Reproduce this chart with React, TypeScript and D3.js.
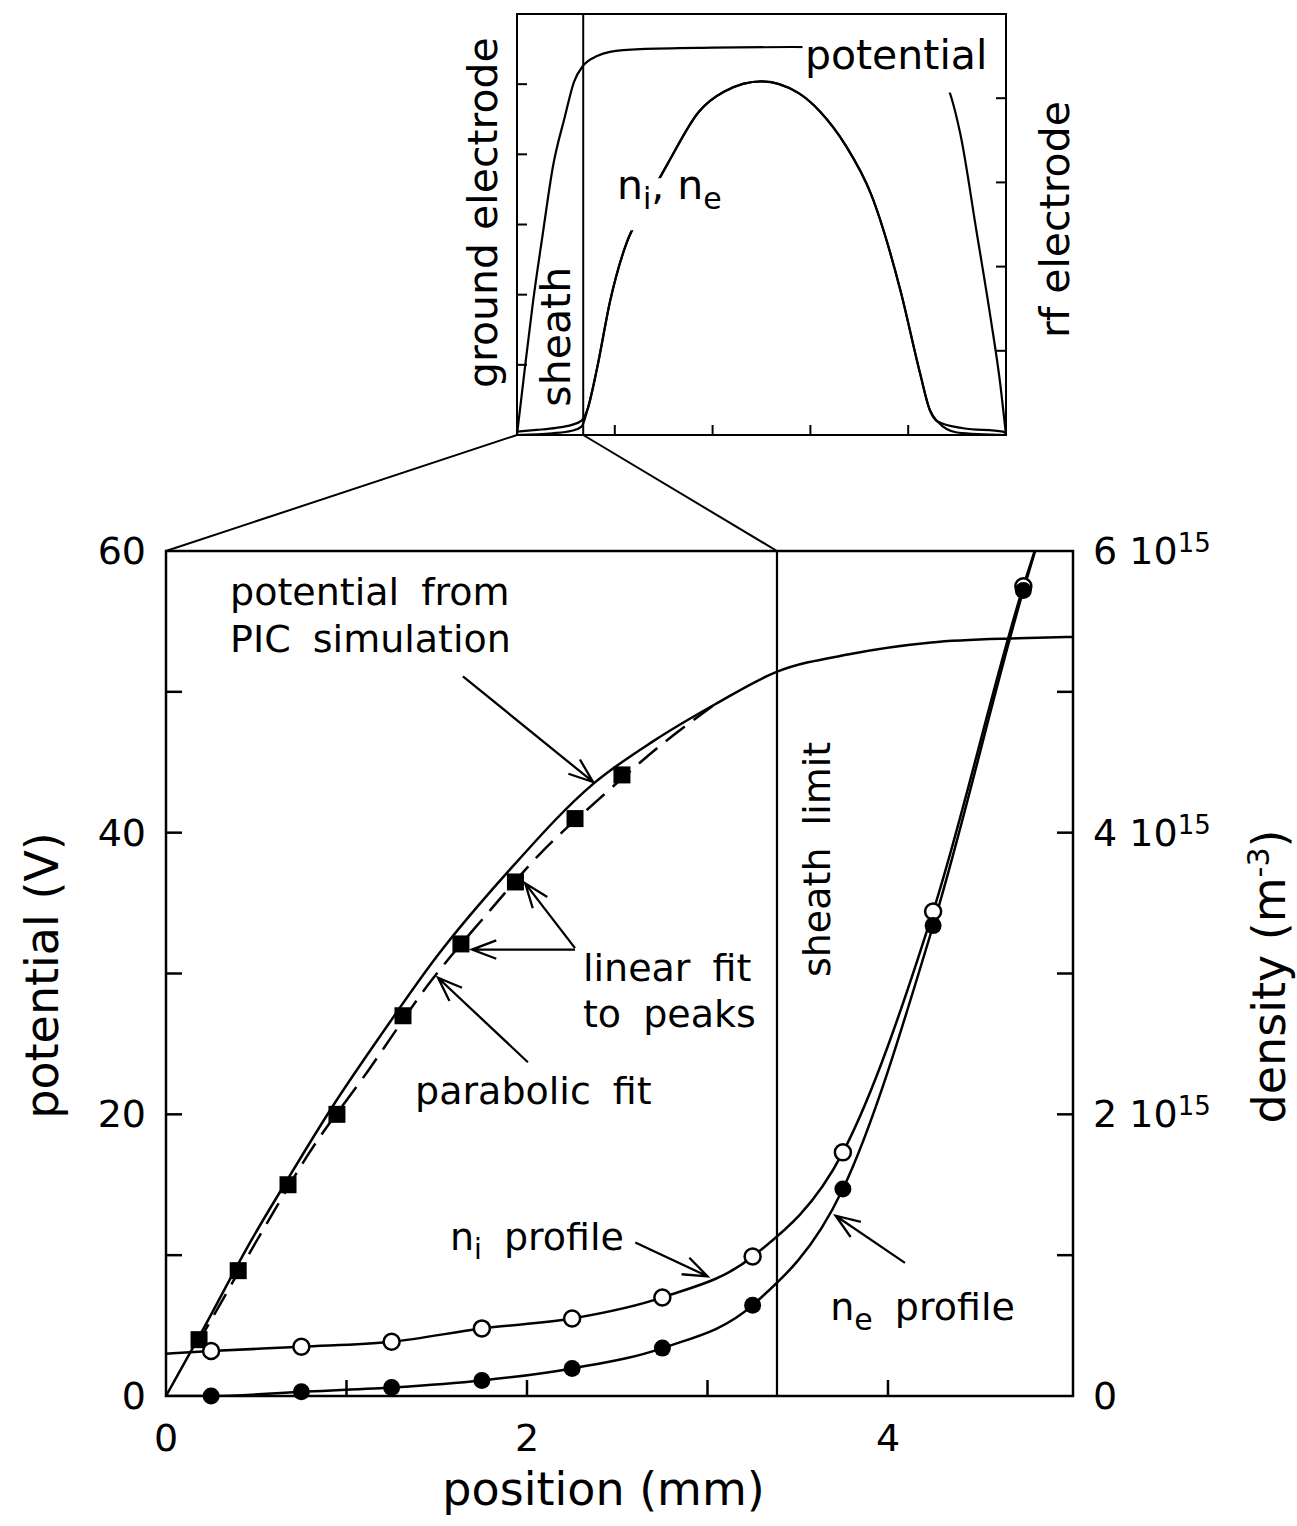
import React from 'react';
import * as d3 from 'd3';

// ---- main plot data: position (mm), potential (V), density (1e15 m^-3)
const xLabelTicks = [0, 2, 4];
const xTickMarks = [1, 2, 3, 4];
const vLabelTicks = [0, 20, 40, 60];
const vTickMarks = [10, 20, 30, 40, 50];
const nLabelTicks = [0, 2, 4, 6];
const nTickMarks = [1, 2, 3, 4, 5];

const sheathLimit = 3.385;

// potential from PIC simulation (solid)
const picPotential: [number, number][] = [
  [0, 0], [0.2, 4.6], [0.47, 11.0], [0.67, 15.3], [0.92, 20.5], [1.2, 25.8],
  [1.5, 31.2], [1.9, 37.3], [2.37, 43.5], [2.7, 46.5], [3.04, 49.1], [3.38, 51.4],
  [3.8, 52.7], [4.24, 53.5], [4.72, 53.8], [5.025, 53.9],
];

// parabolic fit (dashed)
const parabolicFit: [number, number][] = [
  [0.17, 3.6], [0.57, 12.5], [0.78, 17.0], [1.12, 23.1], [1.47, 29.5],
  [1.77, 34.1], [2.08, 38.6], [2.4, 42.4], [2.75, 46.3], [3.04, 49.1],
];

// linear fit to peaks (squares)
const peakPoints: [number, number][] = [
  [0.183, 4.0], [0.40, 8.9], [0.676, 15.0], [0.947, 20.0], [1.313, 27.0],
  [1.634, 32.1], [1.936, 36.5], [2.266, 41.0], [2.526, 44.1],
];

const profileX = [0.25, 0.75, 1.25, 1.75, 2.25, 2.75, 3.25, 3.75, 4.25, 4.75];
const niProfile = [0.319, 0.35, 0.385, 0.48, 0.55, 0.70, 0.99, 1.73, 3.44, 5.75];
const neProfile = [0.0, 0.03, 0.06, 0.11, 0.196, 0.34, 0.645, 1.47, 3.34, 5.72];
const niStart: [number, number] = [0, 0.30];
const neStart: [number, number] = [0, 0];
const profileEnd: [number, number] = [4.85, 6.15];

// ---- inset data: full gap (mm), potential (V), density (1e15 m^-3)
const insetXTicks = [5, 10, 15, 20];
const insetVTicks = [10, 20, 30, 40, 50];
const insetNTicks = [5, 10, 15, 20];

const insetPotential: [number, number][] = [
  [0, 0], [0.41, 9.7], [0.82, 19], [1.33, 28.9], [1.84, 38.3], [2.45, 45.4],
  [2.91, 50.3], [3.37, 52.6], [4.09, 54.0], [4.75, 54.6], [6.3, 55.0], [10, 55.2],
  [14, 55.3], [18, 55.2], [19.5, 54.6], [20.8, 53.0], [21.9, 50.3], [22.65, 43.1],
  [23.5, 28.9], [24.2, 16.9], [24.7, 7.4], [25, 0],
];

const insetNi: [number, number][] = [
  [0, 0.2], [1, 0.3], [2, 0.42], [2.8, 0.6], [3.3, 0.85], [3.6, 1.5], [4.1, 4.0],
  [4.75, 7.9], [5.6, 11.4], [6.3, 13.1], [7.7, 16.1], [9.3, 19.2], [10.6, 20.4],
  [12.5, 21.0], [14.4, 20.3], [15.5, 19.2], [16.8, 17.2], [18.1, 14.3], [19.6, 8.6],
  [20.6, 3.7], [21.1, 1.5], [21.5, 0.8], [22.8, 0.4], [24.85, 0.2], [25, 0.1],
];

const insetNe: [number, number][] = [
  [0, 0], [1.8, 0.1], [2.8, 0.25], [3.3, 0.5], [3.6, 1.5], [4.1, 4.0],
  [4.75, 7.9], [5.6, 11.4], [6.3, 13.1], [7.7, 16.1], [9.3, 19.2], [10.6, 20.4],
  [12.5, 21.0], [14.4, 20.3], [15.5, 19.2], [16.8, 17.2], [18.1, 14.3], [19.6, 8.6],
  [20.6, 3.7], [21.1, 1.5], [21.5, 0.8], [22.5, 0.15], [25, 0],
];

// annotations in main-plot data coords (x mm, y V)
const arrows: { from: [number, number]; to: [number, number] }[] = [
  { from: [1.645, 51.1], to: [2.366, 43.6] },
  { from: [2.266, 31.7], to: [1.695, 31.7] },
  { from: [2.266, 31.8], to: [1.99, 36.4] },
  { from: [2.005, 23.7], to: [1.507, 29.7] },
  { from: [2.6, 10.9], to: [3.0, 8.5] },
  { from: [4.094, 9.45], to: [3.71, 12.8] },
];

const W = 1297;
const H = 1526;
const FONT = "'DejaVu Sans', Verdana, sans-serif";

const main = { left: 166, right: 1073, top: 551, bottom: 1396 };
const inset = { left: 517, right: 1006, top: 14, bottom: 435 };

function arrowPath(x1: number, y1: number, x2: number, y2: number, len = 26, ang = 0.36) {
  const a = Math.atan2(y2 - y1, x2 - x1);
  const w1x = x2 - len * Math.cos(a - ang), w1y = y2 - len * Math.sin(a - ang);
  const w2x = x2 - len * Math.cos(a + ang), w2y = y2 - len * Math.sin(a + ang);
  return `M${x1},${y1}L${x2},${y2}M${w1x},${w1y}L${x2},${y2}L${w2x},${w2y}`;
}

export default function App() {
  const x = d3.scaleLinear().domain([0, 5.025]).range([main.left, main.right]);
  const yV = d3.scaleLinear().domain([0, 60]).range([main.bottom, main.top]);
  const yN = d3.scaleLinear().domain([0, 6]).range([main.bottom, main.top]);

  const ix = d3.scaleLinear().domain([0, 25]).range([inset.left, inset.right]);
  const iyV = d3.scaleLinear().domain([0, 60]).range([inset.bottom, inset.top]);
  const iyN = d3.scaleLinear().domain([0, 25]).range([inset.bottom, inset.top]);

  const lineV = d3.line<[number, number]>().x(d => x(d[0])).y(d => yV(d[1])).curve(d3.curveMonotoneX);
  const lineN = d3.line<[number, number]>().x(d => x(d[0])).y(d => yN(d[1])).curve(d3.curveMonotoneX);
  const iLineV = d3.line<[number, number]>().x(d => ix(d[0])).y(d => iyV(d[1])).curve(d3.curveMonotoneX);
  const iLineN = d3.line<[number, number]>().x(d => ix(d[0])).y(d => iyN(d[1])).curve(d3.curveMonotoneX);

  const niPts: [number, number][] = profileX.map((p, i) => [p, niProfile[i]]);
  const nePts: [number, number][] = profileX.map((p, i) => [p, neProfile[i]]);
  const niLine = [niStart, ...niPts, profileEnd];
  const neLine = [neStart, ...nePts, profileEnd];

  const txt = { fontFamily: FONT, fill: '#000' } as const;
  const annot = { ...txt, fontSize: 38, wordSpacing: 10 } as const;
  const sw = 2.5;

  return (
    <div style={{ position: 'absolute', left: 0, top: 0 }}>
      <svg width={W} height={H} style={{ display: 'block', background: '#fff' }}>
        <defs>
          <clipPath id="plotClip">
            <rect x={main.left} y={main.top} width={main.right - main.left} height={main.bottom - main.top} />
          </clipPath>
        </defs>

        {/* ---------- inset ---------- */}
        <g stroke="#000" fill="none" strokeWidth={2}>
          <rect x={inset.left} y={inset.top} width={inset.right - inset.left} height={inset.bottom - inset.top} />
          <line x1={ix(sheathLimit)} x2={ix(sheathLimit)} y1={inset.top} y2={inset.bottom} />
          {insetVTicks.map(t => (
            <line key={'iv' + t} x1={inset.left} x2={inset.left + 10} y1={iyV(t)} y2={iyV(t)} />
          ))}
          {insetNTicks.map(t => (
            <line key={'in' + t} x1={inset.right - 10} x2={inset.right} y1={iyN(t)} y2={iyN(t)} />
          ))}
          {insetXTicks.map(t => (
            <line key={'ix' + t} x1={ix(t)} x2={ix(t)} y1={inset.bottom} y2={inset.bottom - 10} />
          ))}
          <path d={iLineV(insetPotential) || ''} strokeWidth={2.2} />
          <path d={iLineN(insetNi) || ''} strokeWidth={2.2} />
          <path d={iLineN(insetNe) || ''} strokeWidth={2.2} />
          {/* zoom connectors */}
          <line x1={ix(0)} y1={inset.bottom} x2={x(0)} y2={main.top} />
          <line x1={ix(sheathLimit)} y1={inset.bottom} x2={x(sheathLimit)} y2={main.top} />
        </g>

        {/* inset labels */}
        <rect x={ix(14.6)} y={iyV(58.5)} width={190} height={68} fill="#fff" />
        <text x={ix(14.72)} y={iyV(52.1)} fontSize={41} {...txt}>potential</text>
        <rect x={ix(4.7)} y={iyV(36.6)} width={114} height={52} fill="#fff" />
        <text x={ix(5.11)} y={iyV(33.6)} fontSize={41} {...txt}>
          n<tspan fontSize={30} dy={10}>i</tspan><tspan dy={-10}>, n</tspan><tspan fontSize={30} dy={10}>e</tspan>
        </text>
        <text transform={`translate(${ix(-1.0)},${iyV(31.7)}) rotate(-90)`} textAnchor="middle" fontSize={41} {...txt}>
          ground electrode
        </text>
        <text transform={`translate(${ix(2.71)},${iyV(14)}) rotate(-90)`} textAnchor="middle" fontSize={41} {...txt}>
          sheath
        </text>
        <text transform={`translate(${ix(28.2)},${iyV(30.7)}) rotate(-90)`} textAnchor="middle" fontSize={41} {...txt}>
          rf electrode
        </text>

        {/* ---------- main plot ---------- */}
        <g stroke="#000" fill="none" strokeWidth={sw}>
          <rect x={main.left} y={main.top} width={main.right - main.left} height={main.bottom - main.top} />
          <line x1={x(sheathLimit)} x2={x(sheathLimit)} y1={main.top} y2={main.bottom} strokeWidth={2.2} />
          {vTickMarks.map(t => (
            <line key={'v' + t} x1={main.left} x2={main.left + 16} y1={yV(t)} y2={yV(t)} />
          ))}
          {nTickMarks.map(t => (
            <line key={'n' + t} x1={main.right - 16} x2={main.right} y1={yN(t)} y2={yN(t)} />
          ))}
          {xTickMarks.map(t => (
            <line key={'x' + t} x1={x(t)} x2={x(t)} y1={main.bottom} y2={main.bottom - 16} />
          ))}
        </g>

        <g clipPath="url(#plotClip)" fill="none" stroke="#000" strokeWidth={sw}>
          <path d={lineV(picPotential) || ''} />
          <path d={lineV(parabolicFit) || ''} strokeDasharray="24 11" />
          <path d={lineN(niLine) || ''} />
          <path d={lineN(neLine) || ''} />
        </g>

        {/* markers */}
        {peakPoints.map((d, i) => (
          <rect key={'sq' + i} x={x(d[0]) - 8.5} y={yV(d[1]) - 8.5} width={17} height={17} fill="#000" />
        ))}
        {niPts.map((d, i) => (
          <circle key={'ni' + i} cx={x(d[0])} cy={yN(d[1])} r={8} fill="#fff" stroke="#000" strokeWidth={2.5} />
        ))}
        {nePts.map((d, i) => (
          <circle key={'ne' + i} cx={x(d[0])} cy={yN(d[1])} r={8.5} fill="#000" />
        ))}

        {/* arrows */}
        <g fill="none" stroke="#000" strokeWidth={2.3}>
          {arrows.map((a, i) => (
            <path key={'ar' + i} d={arrowPath(x(a.from[0]), yV(a.from[1]), x(a.to[0]), yV(a.to[1]))} />
          ))}
        </g>

        {/* annotation texts */}
        <text x={x(0.355)} y={yV(56.2)} {...annot}>potential from</text>
        <text x={x(0.355)} y={yV(52.8)} {...annot}>PIC simulation</text>
        <text x={x(2.31)} y={yV(29.5)} {...annot}>linear fit</text>
        <text x={x(2.31)} y={yV(26.2)} {...annot}>to peaks</text>
        <text x={x(1.38)} y={yV(20.7)} {...annot}>parabolic fit</text>
        <text x={x(1.573)} y={yV(10.4)} {...annot}>
          n<tspan fontSize={28} dy={9}>i</tspan><tspan dy={-9}> profile</tspan>
        </text>
        <text x={x(3.68)} y={yV(5.4)} {...annot}>
          n<tspan fontSize={30} dy={10}>e</tspan><tspan dy={-10}> profile</tspan>
        </text>
        <text transform={`translate(${x(3.68)},${yV(38.1)}) rotate(-90)`} textAnchor="middle" {...annot}>
          sheath limit
        </text>

        {/* tick labels */}
        {xLabelTicks.map(t => (
          <text key={'xl' + t} x={x(t)} y={main.bottom + 55} textAnchor="middle" fontSize={38} {...txt}>{t}</text>
        ))}
        {vLabelTicks.map(t => (
          <text key={'vl' + t} x={main.left - 20} y={yV(t) + 13} textAnchor="end" fontSize={38} {...txt}>{t}</text>
        ))}
        {nLabelTicks.map(t => (
          <text key={'nl' + t} x={main.right + 20} y={yN(t) + 13} fontSize={38} {...txt}>
            {t === 0 ? '0' : (
              <>
                {t} 10<tspan fontSize={26} dy={-12}>15</tspan>
              </>
            )}
          </text>
        ))}

        {/* axis titles */}
        <text x={(main.left + main.right) / 2 - 16} y={1505} textAnchor="middle" fontSize={46} {...txt}>
          position (mm)
        </text>
        <text transform={`translate(58,${(main.top + main.bottom) / 2 + 2}) rotate(-90)`} textAnchor="middle" fontSize={46} {...txt}>
          potential (V)
        </text>
        <text transform={`translate(1285,${(main.top + main.bottom) / 2 + 3}) rotate(-90)`} textAnchor="middle" fontSize={46} {...txt}>
          density (m<tspan fontSize={30} dy={-16}>-3</tspan><tspan dy={16}>)</tspan>
        </text>
      </svg>
    </div>
  );
}
